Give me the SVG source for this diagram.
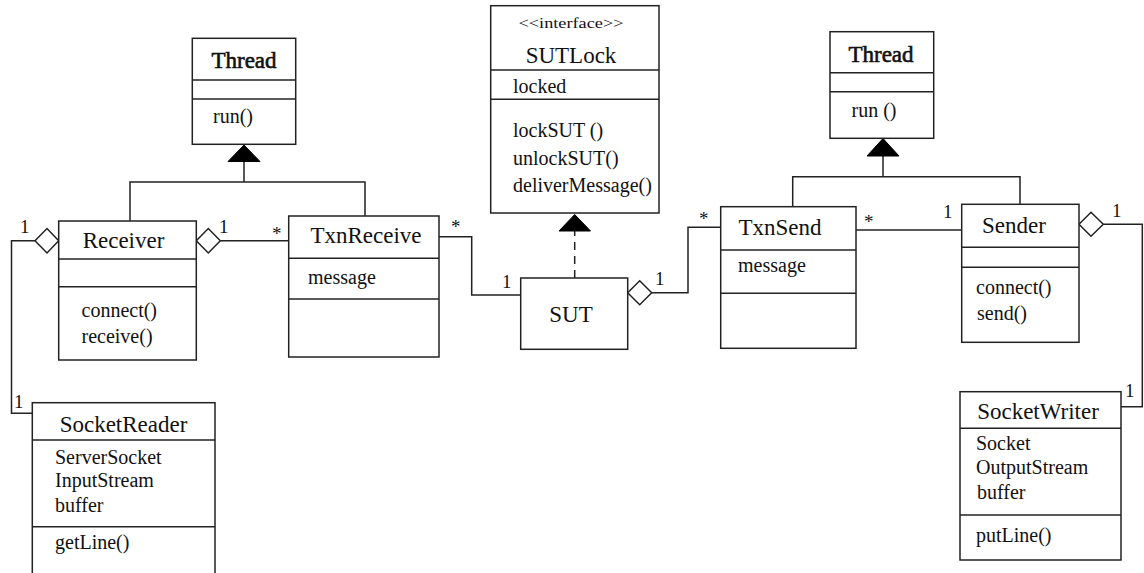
<svg xmlns="http://www.w3.org/2000/svg" width="1144" height="573" viewBox="0 0 1144 573">
  <style>
    .box { fill: #fff; stroke: #222; stroke-width: 1.5; }
    .sep { stroke: #222; stroke-width: 1.5; }
    .line { fill: none; stroke: #222; stroke-width: 1.5; }
    .dash { fill: none; stroke: #222; stroke-width: 1.5; stroke-dasharray: 8 6; }
    .tri { fill: #000; stroke: #000; stroke-width: 1; }
    .dia { fill: #fff; stroke: #222; stroke-width: 1.5; }
    text { font-family: "Liberation Serif", "Times New Roman", serif; fill: #111; }
    .title { font-size: 23px; text-anchor: middle; }
    .heavy { stroke: #111; stroke-width: 0.6; }
    .item { font-size: 20px; }
    .mult { font-size: 19px; }
    .stereo { font-size: 15px; text-anchor: middle; }
  </style>
  <rect width="1144" height="573" fill="#fff"/>

  <!-- associations, aggregations and generalizations -->
  <g id="connectors">
    <!-- Receiver / TxnReceive extend Thread -->
    <polyline class="line" points="130,221 130,182 365,182 365,216"/>
    <line class="line" x1="244" y1="182" x2="244" y2="161"/>
    <polygon class="tri" points="244,145 228,161.5 260,161.5"/>

    <!-- Receiver aggregates SocketReader -->
    <polygon class="dia" points="58.7,240.7 47,228.5 35,240.7 47,253"/>
    <polyline class="line" points="35,240.7 11.5,240.7 11.5,413.3 32.3,413.3"/>
    <text class="mult" x="20" y="233">1</text>
    <text class="mult" x="14" y="408">1</text>

    <!-- Receiver aggregates TxnReceive -->
    <polygon class="dia" points="196.3,240.7 208.3,228.5 220.3,240.7 208.3,253"/>
    <line class="line" x1="220.3" y1="240.7" x2="288.7" y2="240.7"/>
    <text class="mult" x="219" y="233">1</text>
    <text class="mult" x="272" y="240">*</text>

    <!-- TxnReceive to SUT -->
    <polyline class="line" points="439,236.7 471.7,236.7 471.7,295 520.7,295"/>
    <text class="mult" x="451" y="233">*</text>
    <text class="mult" x="502" y="288">1</text>

    <!-- SUT realizes SUTLock -->
    <line class="dash" x1="574.7" y1="278" x2="574.7" y2="231"/>
    <polygon class="tri" points="574.7,214.5 559,231 590.5,231"/>

    <!-- SUT aggregates TxnSend -->
    <polygon class="dia" points="627.7,292.7 639.7,280.7 651.7,292.7 639.7,304.7"/>
    <polyline class="line" points="651.7,292.7 688,292.7 688,227.2 720.7,227.2"/>
    <text class="mult" x="655" y="285">1</text>
    <text class="mult" x="699" y="225">*</text>

    <!-- TxnSend to Sender -->
    <line class="line" x1="856" y1="230" x2="961.7" y2="230"/>
    <text class="mult" x="864" y="228">*</text>
    <text class="mult" x="943" y="218">1</text>

    <!-- TxnSend / Sender extend Thread -->
    <polyline class="line" points="792.7,206.7 792.7,176.7 1020,176.7 1020,204.3"/>
    <line class="line" x1="883" y1="176.7" x2="883" y2="155.5"/>
    <polygon class="tri" points="883,138.5 867,156 899,156"/>

    <!-- Sender aggregates SocketWriter -->
    <polygon class="dia" points="1079,224.3 1091,212.3 1103.3,224.3 1091,236.3"/>
    <polyline class="line" points="1103.3,224.3 1142.3,224.3 1142.3,406.7 1121,406.7"/>
    <text class="mult" x="1112" y="217">1</text>
    <text class="mult" x="1125" y="397">1</text>
  </g>

  <g id="thread-left">
    <rect class="box" x="192.3" y="38.3" width="103.4" height="106"/>
    <line class="sep" x1="192.3" y1="80" x2="295.7" y2="80"/>
    <line class="sep" x1="192.3" y1="99" x2="295.7" y2="99"/>
    <text class="title heavy" x="244" y="67.5">Thread</text>
    <text class="item" x="213" y="123">run()</text>
  </g>

  <g id="receiver">
    <rect class="box" x="58.7" y="221" width="137.6" height="139"/>
    <line class="sep" x1="58.7" y1="259" x2="196.3" y2="259"/>
    <line class="sep" x1="58.7" y1="286.7" x2="196.3" y2="286.7"/>
    <text class="title" x="123.5" y="248">Receiver</text>
    <text class="item" x="81.5" y="317">connect()</text>
    <text class="item" x="81.5" y="343">receive()</text>
  </g>

  <g id="txn-receive">
    <rect class="box" x="288.7" y="216" width="150.3" height="141"/>
    <line class="sep" x1="288.7" y1="258.3" x2="439" y2="258.3"/>
    <line class="sep" x1="288.7" y1="299" x2="439" y2="299"/>
    <text class="title" x="366" y="243">TxnReceive</text>
    <text class="item" x="308" y="284">message</text>
  </g>

  <g id="sut-lock">
    <rect class="box" x="490.7" y="5.7" width="168.3" height="207.3"/>
    <line class="sep" x1="490.7" y1="70" x2="659" y2="70"/>
    <line class="sep" x1="490.7" y1="99.3" x2="659" y2="99.3"/>
    <text class="stereo" x="571" y="28" textLength="105" lengthAdjust="spacingAndGlyphs">&lt;&lt;interface&gt;&gt;</text>
    <text class="title" x="571" y="63">SUTLock</text>
    <text class="item" x="513" y="93">locked</text>
    <text class="item" x="513" y="137">lockSUT ()</text>
    <text class="item" x="513" y="165">unlockSUT()</text>
    <text class="item" x="513" y="192">deliverMessage()</text>
  </g>

  <g id="sut">
    <rect class="box" x="520.7" y="278" width="107" height="71.3"/>
    <text class="title" x="571" y="321.5">SUT</text>
  </g>

  <g id="thread-right">
    <rect class="box" x="830" y="31.7" width="103.7" height="106.6"/>
    <line class="sep" x1="830" y1="72.7" x2="933.7" y2="72.7"/>
    <line class="sep" x1="830" y1="91.7" x2="933.7" y2="91.7"/>
    <text class="title heavy" x="881" y="61.5">Thread</text>
    <text class="item" x="851.5" y="117">run ()</text>
  </g>

  <g id="txn-send">
    <rect class="box" x="720.7" y="206.7" width="135.3" height="141.6"/>
    <line class="sep" x1="720.7" y1="250" x2="856" y2="250"/>
    <line class="sep" x1="720.7" y1="293.3" x2="856" y2="293.3"/>
    <text class="title" x="780" y="235">TxnSend</text>
    <text class="item" x="738" y="272">message</text>
  </g>

  <g id="sender">
    <rect class="box" x="961.7" y="204.3" width="117.3" height="138"/>
    <line class="sep" x1="961.7" y1="247.3" x2="1079" y2="247.3"/>
    <line class="sep" x1="961.7" y1="267.3" x2="1079" y2="267.3"/>
    <text class="title" x="1014" y="233.3">Sender</text>
    <text class="item" x="976" y="293.5">connect()</text>
    <text class="item" x="977" y="320">send()</text>
  </g>

  <g id="socket-reader">
    <rect class="box" x="32.3" y="402.7" width="182.7" height="200"/>
    <line class="sep" x1="32.3" y1="440" x2="215" y2="440"/>
    <line class="sep" x1="32.3" y1="526.7" x2="215" y2="526.7"/>
    <text class="title" x="123.5" y="431.7">SocketReader</text>
    <text class="item" x="55" y="463.5">ServerSocket</text>
    <text class="item" x="55" y="487">InputStream</text>
    <text class="item" x="55" y="512">buffer</text>
    <text class="item" x="55" y="548.5">getLine()</text>
  </g>

  <g id="socket-writer">
    <rect class="box" x="960" y="391.7" width="161" height="168.3"/>
    <line class="sep" x1="960" y1="428.3" x2="1121" y2="428.3"/>
    <line class="sep" x1="960" y1="515" x2="1121" y2="515"/>
    <text class="title" x="1038" y="418.5">SocketWriter</text>
    <text class="item" x="976" y="450">Socket</text>
    <text class="item" x="976" y="473.5">OutputStream</text>
    <text class="item" x="977" y="498.5">buffer</text>
    <text class="item" x="976" y="542">putLine()</text>
  </g>
</svg>
